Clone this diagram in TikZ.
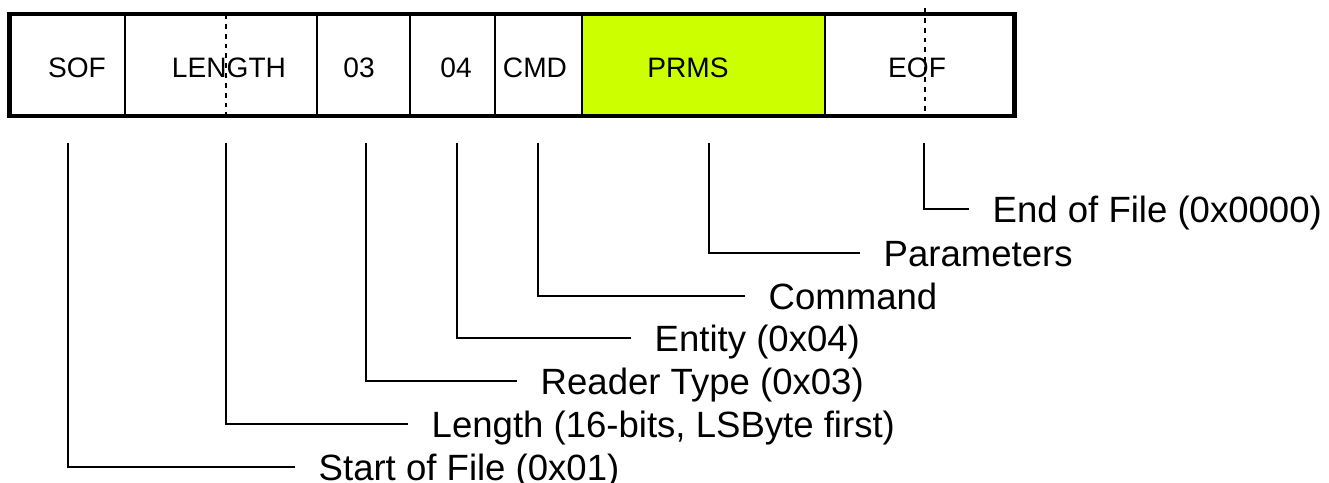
\documentclass[tikz,border=0pt]{standalone}
\usepackage{fontspec}
\setmainfont{Liberation Sans}
\usepackage{tikz}

\definecolor{prmsgreen}{HTML}{CCFF00}
\tikzset{
  fieldtxt/.style={font=\fontsize{8}{9}\selectfont, inner sep=0pt, text height=5.7pt, text depth=0pt},
  desctxt/.style={font=\fontsize{10.4}{12}\selectfont, anchor=west, inner xsep=0.23cm, inner ysep=0pt, text height=7.45pt, text depth=0pt},
  lead/.style={black, line width=0.6pt},
  split/.style={black, line width=0.6pt, dash pattern=on 1.4pt off 1.4pt},
  divider/.style={black, line width=0.6pt}
}

\begin{document}
\begin{tikzpicture}
  \useasboundingbox (0,0) rectangle (13.29,-4.83);
  % frame fields
  \fill[prmsgreen] (5.82,-0.14) rectangle (8.25,-1.16);
  \draw[divider] (1.25,-0.14) -- (1.25,-1.16);
  \draw[divider] (3.17,-0.14) -- (3.17,-1.16);
  \draw[divider] (4.10,-0.14) -- (4.10,-1.16);
  \draw[divider] (4.95,-0.14) -- (4.95,-1.16);
  \draw[divider] (5.82,-0.14) -- (5.82,-1.16);
  \draw[divider] (8.25,-0.14) -- (8.25,-1.16);
   \draw[split] (2.26,-0.14) -- (2.26,-1.14);
   \draw[split] (9.25,-0.08) -- (9.25,-1.14);
  \draw[black, line width=1.3pt] (0.095,-0.14) rectangle (10.145,-1.16);
    \node[fieldtxt] (sof) at (0.77,-0.67) {SOF};
    \node[fieldtxt] (len) at (2.29,-0.67) {LENGTH};
    \node[fieldtxt] (rtype) at (3.59,-0.67) {03};
    \node[fieldtxt] (ent) at (4.56,-0.67) {04};
    \node[fieldtxt] (cmd) at (5.35,-0.67) {CMD};
    \node[fieldtxt] (prms) at (6.88,-0.67) {PRMS};
    \node[fieldtxt] (eof) at (9.17,-0.67) {EOF};
  % leader tops
  \coordinate (sofc) at (0.68,-1.43);
  \coordinate (lenc) at (2.26,-1.43);
  \coordinate (rtypec) at (3.66,-1.43);
  \coordinate (entc) at (4.57,-1.43);
  \coordinate (cmdc) at (5.38,-1.43);
  \coordinate (prmsc) at (7.09,-1.43);
  \coordinate (eofc) at (9.24,-1.43);
  % descriptions
     \node[desctxt] (eofl) at (9.69,-2.09) {End of File (0x0000)};
     \node[desctxt] (prmsl) at (8.60,-2.53) {Parameters};
     \node[desctxt] (cmdl) at (7.45,-2.96) {Command};
     \node[desctxt] (entl) at (6.31,-3.38) {Entity (0x04)};
     \node[desctxt] (rtypel) at (5.17,-3.81) {Reader Type (0x03)};
     \node[desctxt] (lenl) at (4.08,-4.24) {Length (16-bits, LSByte first)};
     \node[desctxt] (sofl) at (2.95,-4.67) {Start of File (0x01)};
  \draw[lead] (eofc) |- (eofl.west);
  \draw[lead] (prmsc) |- (prmsl.west);
  \draw[lead] (cmdc) |- (cmdl.west);
  \draw[lead] (entc) |- (entl.west);
  \draw[lead] (rtypec) |- (rtypel.west);
  \draw[lead] (lenc) |- (lenl.west);
  \draw[lead] (sofc) |- (sofl.west);
\end{tikzpicture}
\end{document}
